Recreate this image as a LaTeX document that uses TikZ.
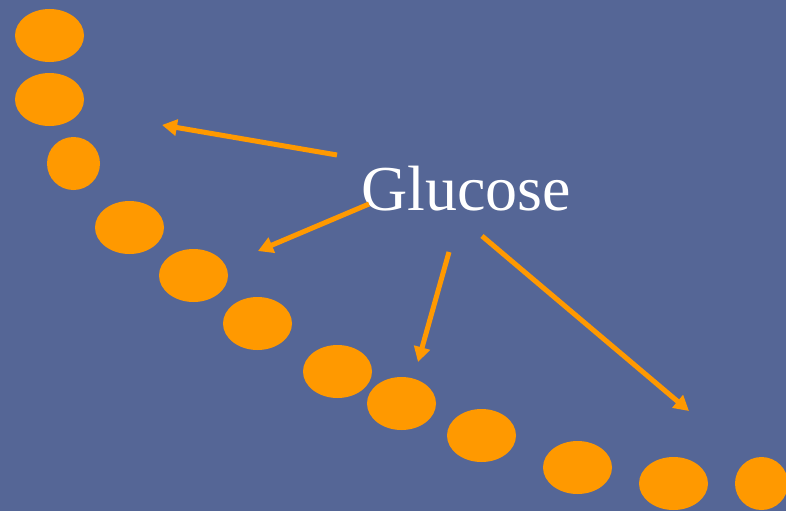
\documentclass[tikz,border=0pt]{standalone}
\usepackage{fontspec}
\setmainfont{Liberation Serif}
\usepackage{tikz}
\usetikzlibrary{shapes.geometric, arrows.meta}
\definecolor{slideblue}{RGB}{85, 102, 150}
\definecolor{dotorange}{RGB}{255, 153, 0}

\begin{document}
\begin{tikzpicture}[
    x=1pt, y=-1pt,
    dot/.style={ellipse, fill=dotorange, inner sep=0pt, minimum width=69pt, minimum height=53pt},
    round/.style={circle, fill=dotorange, inner sep=0pt, minimum size=53pt},
    pointer/.style={-{Triangle[length=15pt, width=16pt]}, line width=5pt, color=dotorange}
]
    \useasboundingbox (0,0) rectangle (786,511);
    \fill[slideblue] (0,0) rectangle (786,511);

    % beads
    \foreach \name/\px/\py in {d1/49.5/35.5, d2/49.5/99.5, d4/129.5/227.5, d5/193.5/275.5,
        d6/257.5/323.5, d7/337.5/371.5, d8/401.5/403.5, d9/481.5/435.5, d10/577.5/467.5, d11/673.5/483.5}
        \node[dot] (\name) at (\px,\py) {};
    \node[round] (d3) at (73.5,163.5) {};
    \node[round] (d12) at (761.5,483.5) {};

    \node[text=white, font=\fontsize{64}{70}\selectfont, anchor=base, inner sep=0pt] (glu) at (466,210) {Glucose};

    \coordinate (s1) at (337,155);
    \coordinate (e1) at (162,125);
    \coordinate (s2) at (369,204);
    \coordinate (e2) at (258,251);
    \coordinate (s3) at (449,252);
    \coordinate (e3) at (418,362);
    \coordinate (s4) at (482,236);
    \coordinate (e4) at (689,411);

    \draw[pointer] (s1) -- (e1);
    \draw[pointer] (s2) -- (e2);
    \draw[pointer] (s3) -- (e3);
    \draw[pointer] (s4) -- (e4);
\end{tikzpicture}
\end{document}
